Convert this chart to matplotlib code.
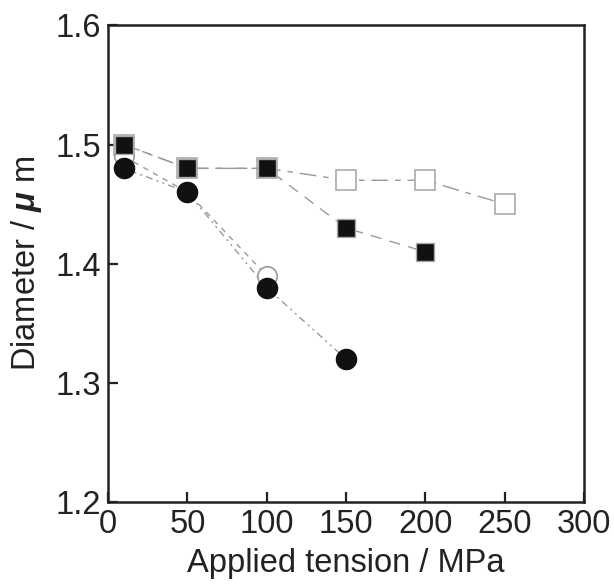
import numpy as np
import matplotlib
matplotlib.use('Agg')
import matplotlib.pyplot as plt

plt.rcParams['font.family'] = ['Liberation Sans', 'DejaVu Sans']
plt.rcParams['mathtext.fontset'] = 'custom'
plt.rcParams['mathtext.it'] = 'Liberation Sans:italic:bold'

# data
x_open_sq = [10, 50, 100, 150, 200, 250]
y_open_sq = [1.50, 1.48, 1.48, 1.47, 1.47, 1.45]
x_fill_sq = [10, 50, 100, 150, 200]
y_fill_sq = [1.50, 1.48, 1.48, 1.43, 1.41]
x_open_ci = [10, 50, 100]
y_open_ci = [1.49, 1.46, 1.39]
x_fill_ci = [10, 50, 100, 150]
y_fill_ci = [1.48, 1.46, 1.38, 1.32]

xticks = [0, 50, 100, 150, 200, 250, 300]
yticks = [1.2, 1.3, 1.4, 1.5, 1.6]

fig = plt.figure(figsize=(6.14, 5.88), dpi=100)
ax = fig.add_axes([0.176, 0.146, 0.775, 0.811])

lc = '#999999'
ax.plot(x_open_sq, y_open_sq, color=lc, lw=1.0, dashes=(12, 5, 4, 5),
        marker='s', ms=14, mfc='white', mec='#aaaaaa', mew=1.2)
ax.plot(x_open_ci, y_open_ci, color=lc, lw=1.0, dashes=(4, 4),
        marker='o', ms=14, mfc='white', mec='#999999', mew=1.2)
ax.plot(x_fill_sq, y_fill_sq, color=lc, lw=1.0, dashes=(8, 6),
        marker='s', ms=13.5, mfc='#111111', mec='#aaaaaa', mew=1.0)
ax.plot(x_fill_ci, y_fill_ci, color=lc, lw=1.0, dashes=(5, 3, 1.5, 3, 1.5, 3),
        marker='o', ms=14.5, mfc='#111111', mec='#111111', mew=1.0)

ax.set_xlim(0, 300)
ax.set_ylim(1.2, 1.6)
ax.set_xticks(xticks)
ax.set_yticks(yticks)
ax.set_yticklabels(['%.1f' % v for v in yticks])
ax.tick_params(axis='both', which='major', direction='in', labelsize=23.5,
               length=7, width=1.6, color='#222222', labelcolor='#222222', pad=5)
for s in ax.spines.values():
    s.set_linewidth(1.8)
    s.set_color('#222222')
ax.set_xlabel('Applied tension / MPa', fontsize=23.5, labelpad=6, color='#222222')
ax.set_ylabel(r'Diameter / $\mu$ m', fontsize=23.5, labelpad=8, color='#222222')

fig.savefig('out.png', dpi=100)
